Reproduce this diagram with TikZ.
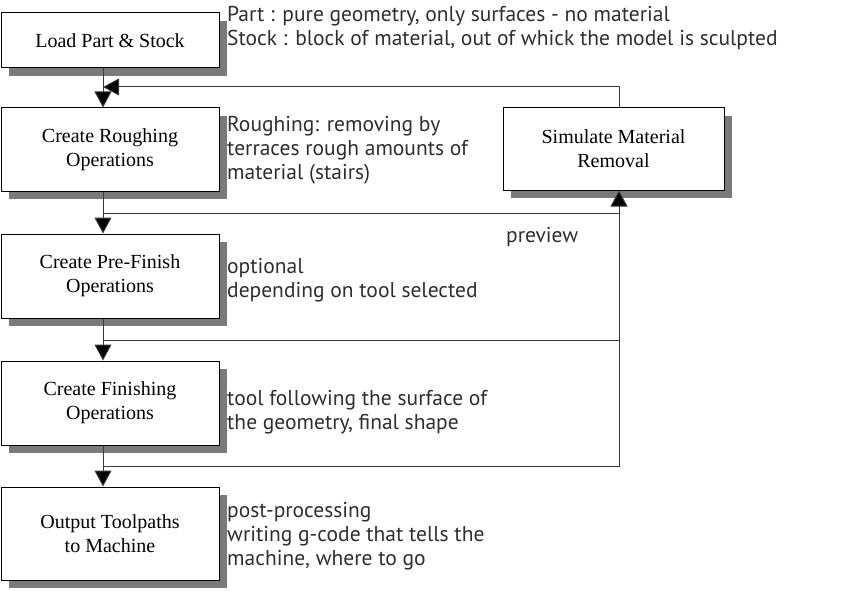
\documentclass[tikz,border=0pt]{standalone}
\usepackage{fontspec}
\setmainfont{Liberation Serif}
\newfontfamily\notefont{PT Sans}
\usetikzlibrary{arrows.meta,shadows}
\definecolor{shadowgray}{HTML}{7A7A7A}
\definecolor{notegray}{HTML}{2E2E2E}
\definecolor{linegray}{HTML}{3A3A3A}

\begin{document}
\begin{tikzpicture}[x=1pt,y=-1pt,
  box/.style={draw=black,fill=white,line width=1pt,align=center,inner sep=0pt,
    minimum width=218pt,font=\fontsize{20}{24}\selectfont,
    drop shadow={shadow xshift=8pt,shadow yshift=-8pt,fill=shadowgray,opacity=1}},
  note/.style={anchor=west,align=left,inner sep=0pt,text=notegray,
    font=\notefont\fontsize{21.5}{24}\selectfont},
  fl/.style={-{Triangle[width=17pt,length=16pt,fill=black]},draw=linegray,line width=1pt},
  ln/.style={draw=linegray,line width=1pt}
]
\useasboundingbox (0,0) rectangle (857,591);

% process chain
\node[box,minimum height=55pt] (load) at (110,40.5) {Load Part \& Stock};
\node[box,minimum height=83pt] (rough) at (110,149.5) {Create Roughing\\Operations};
\node[box,minimum height=84pt] (prefin) at (110,276) {Create Pre-Finish\\Operations};
\node[box,minimum height=84pt] (finish) at (110,403) {Create Finishing\\Operations};
\node[box,minimum height=93pt] (output) at (110,533.5) {Output Toolpaths\\to Machine};
\node[box,minimum width=221pt,minimum height=82pt] (sim) at (613.5,149) {Simulate Material\\Removal};

% notes
\node[note] (n1) at (227,28.5) {Part : pure geometry, only surfaces - no material\\Stock : block of material, out of whick the model is sculpted};
\node[note] (n2) at (227,150) {Roughing: removing by\\terraces rough amounts of\\material (stairs)};
\node[note] (n3) at (227,280) {optional\\depending on tool selected};
\node[note] (n4) at (227,412) {tool following the surface of\\the geometry, final shape};
\node[note] (n5) at (227,536) {post-processing\\writing g-code that tells the\\machine, where to go};
\node[note] (prev) at (506,237) {preview};

\coordinate (ax) at (103,0);
\coordinate (simx) at (619,0);
\coordinate (tap1) at (103,213);
\coordinate (tap2) at (103,340);
\coordinate (tap3) at (103,466);
\coordinate (back) at (103,87);

\draw[fl] (load.south -| ax) -- (rough.north -| ax);
\draw[fl] (rough.south -| ax) -- (prefin.north -| ax);
\draw[fl] (prefin.south -| ax) -- (finish.north -| ax);
\draw[fl] (finish.south -| ax) -- (output.north -| ax);

\draw[ln] (tap1) -- (tap1 -| simx);
\draw[ln] (tap2) -- (tap2 -| simx);
\draw[fl] (tap3) -| (sim.south -| simx);
\draw[fl] (sim.north -| simx) |- (back);
\end{tikzpicture}
\end{document}
